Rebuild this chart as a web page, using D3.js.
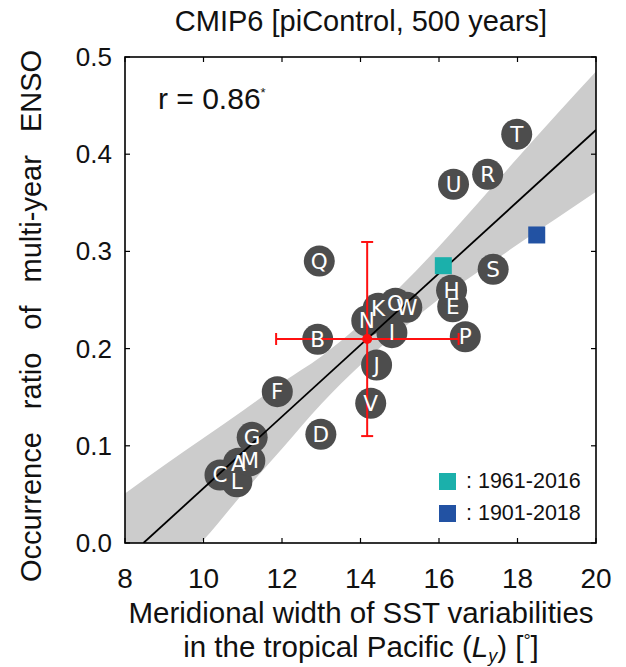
<!DOCTYPE html>
<html><head><meta charset="utf-8">
<script src="https://cdn.jsdelivr.net/npm/d3@7"></script>
<style>body{margin:0;background:#fff}svg{display:block}</style>
</head><body>
<svg id="c" width="626" height="667"></svg>
<script>
// ---- data ----
const models = ["A","B","C","D","E","F","G","H","I","J","K","L","M","N","O","P","Q","R","S","T","U","V","W"];
const modelLy = [10.89,12.91,10.42,12.99,16.35,11.88,11.24,16.32,14.80,14.41,14.45,10.85,11.18,14.16,14.89,16.67,12.95,17.24,17.38,17.98,16.37,14.26,15.18];
const modelRatio = [0.082,0.2096,0.070,0.1118,0.243,0.1557,0.1087,0.260,0.2164,0.1831,0.2414,0.063,0.0847,0.2287,0.2466,0.2122,0.290,0.3793,0.2816,0.4205,0.369,0.1437,0.2425];
const obsLabels = ["1961-2016","1901-2018"];
const obsLy = [16.11,18.49];
const obsRatio = [0.2853,0.3169];
const obsColors = ["#1bb0ab","#2252a3"];
const meanPoint = [14.17,0.2099];
const meanXRange = [11.85,16.50];
const meanYRange = [0.110,0.3097];
const fitLine = {x:[8.47,20], y:[0,0.4249]};
const bandX = [8,9,10,11,12,13,14,15,16,17,18,19,20];
const bandUpper = [0.051,0.080,0.108,0.136,0.165,0.192,0.225,0.263,0.305,0.350,0.396,0.441,0.485];
const bandLower = [-0.09,-0.035,0.003,0.051,0.097,0.143,0.183,0.218,0.251,0.279,0.307,0.334,0.3614];
const xTicks = [8,10,12,14,16,18,20];
const yTicks = [0,0.1,0.2,0.3,0.4,0.5];

// ---- layout ----
const L=125,R=596,T=57,B=543;
const svg=d3.select("#c");
const x=d3.scaleLinear().domain([8,20]).range([L,R]);
const y=d3.scaleLinear().domain([0,0.5]).range([B,T]);
const font="'Liberation Sans', Arial, Helvetica, sans-serif";

svg.append("defs").append("clipPath").attr("id","clip")
  .append("rect").attr("x",L).attr("y",T).attr("width",R-L).attr("height",B-T);
const g=svg.append("g").attr("clip-path","url(#clip)");

// band
const area=d3.area().x((d,i)=>x(bandX[i])).y0((d,i)=>y(bandLower[i])).y1((d,i)=>y(bandUpper[i])).curve(d3.curveMonotoneX);
g.append("path").datum(bandX).attr("d",area).attr("fill","#cccccc");

// circles
g.selectAll("circle.m").data(models).join("circle").attr("class","m")
  .attr("cx",(d,i)=>x(modelLy[i])).attr("cy",(d,i)=>y(modelRatio[i])).attr("r",15.5)
  .attr("fill","#4d4d4d");

// fit line
g.append("line").attr("x1",x(fitLine.x[0])).attr("y1",y(fitLine.y[0]))
  .attr("x2",x(fitLine.x[1])).attr("y2",y(fitLine.y[1]))
  .attr("stroke","#000").attr("stroke-width",1.8);

// crosshair
const red="#ff1010";
const ch=g.append("g").attr("stroke",red).attr("stroke-width",2);
ch.append("line").attr("x1",x(meanXRange[0])).attr("x2",x(meanXRange[1])).attr("y1",y(meanPoint[1])).attr("y2",y(meanPoint[1]));
ch.append("line").attr("y1",y(meanYRange[0])).attr("y2",y(meanYRange[1])).attr("x1",x(meanPoint[0])).attr("x2",x(meanPoint[0]));
meanXRange.forEach(v=>ch.append("line").attr("x1",x(v)).attr("x2",x(v)).attr("y1",y(meanPoint[1])-6).attr("y2",y(meanPoint[1])+6));
meanYRange.forEach(v=>ch.append("line").attr("y1",y(v)).attr("y2",y(v)).attr("x1",x(meanPoint[0])-6).attr("x2",x(meanPoint[0])+6));
g.append("circle").attr("cx",x(meanPoint[0])).attr("cy",y(meanPoint[1])).attr("r",5).attr("fill",red);

// letters
g.selectAll("text.m").data(models).join("text").attr("class","m")
  .attr("x",(d,i)=>x(modelLy[i])).attr("y",(d,i)=>y(modelRatio[i])+7.5)
  .attr("text-anchor","middle").attr("fill","#fff")
  .style("font-family","'DejaVu Sans', sans-serif").style("font-size","21.5px").text(d=>d);

// observations
g.selectAll("rect.o").data(obsLy).join("rect").attr("class","o")
  .attr("x",(d,i)=>x(d)-8.5).attr("y",(d,i)=>y(obsRatio[i])-8.5).attr("width",17).attr("height",17)
  .attr("fill",(d,i)=>obsColors[i]);

// frame & ticks
svg.append("rect").attr("x",L).attr("y",T).attr("width",R-L).attr("height",B-T)
  .attr("fill","none").attr("stroke","#000").attr("stroke-width",1.6);
const tk=svg.append("g").attr("stroke","#000").attr("stroke-width",1.2);
xTicks.forEach(v=>{
  tk.append("line").attr("x1",x(v)).attr("x2",x(v)).attr("y1",B).attr("y2",B-5);
  tk.append("line").attr("x1",x(v)).attr("x2",x(v)).attr("y1",T).attr("y2",T+5);
});
yTicks.forEach(v=>{
  tk.append("line").attr("y1",y(v)).attr("y2",y(v)).attr("x1",L).attr("x2",L+5);
  tk.append("line").attr("y1",y(v)).attr("y2",y(v)).attr("x1",R).attr("x2",R-5);
});
svg.selectAll("text.xt").data(xTicks).join("text").attr("class","xt")
  .attr("x",d=>x(d)).attr("y",588).attr("text-anchor","middle")
  .style("font-family",font).style("font-size","28px").attr("fill","#111").text(d=>d);
svg.selectAll("text.yt").data(yTicks).join("text").attr("class","yt")
  .attr("x",112).attr("y",d=>y(d)+9).attr("text-anchor","end")
  .style("font-family",font).style("font-size","26px").attr("fill","#111").text(d=>d3.format(".1f")(d));

// title
svg.append("text").attr("x",361).attr("y",31).attr("text-anchor","middle")
  .style("font-family",font).style("font-size","29px").attr("fill","#111").text("CMIP6 [piControl, 500 years]");

// r
const rt=svg.append("text").attr("x",158).attr("y",109)
  .style("font-family",font).style("font-size","30px").attr("fill","#111");
rt.append("tspan").text("r = 0.86");
rt.append("tspan").attr("dy",-12).style("font-size","13px").text("*");

// legend
obsLabels.forEach((lab,i)=>{
  svg.append("rect").attr("x",439).attr("y",473+i*32).attr("width",17).attr("height",17).attr("fill",obsColors[i]);
  svg.append("text").attr("x",466).attr("y",488+i*32)
    .style("font-family",font).style("font-size","21.5px").attr("fill","#111").text(": "+lab);
});

// axis labels
svg.append("text").attr("transform","translate(41,316) rotate(-90)").attr("text-anchor","middle")
  .style("font-family",font).style("font-size","29px").style("word-spacing","15px").attr("fill","#111")
  .text("Occurrence ratio of multi-year ENSO");
svg.append("text").attr("x",361).attr("y",623).attr("text-anchor","middle")
  .style("font-family",font).style("font-size","29.5px").attr("fill","#111")
  .text("Meridional width of SST variabilities");
const xl2=svg.append("text").attr("x",361).attr("y",657).attr("text-anchor","middle")
  .style("font-family",font).style("font-size","29.5px").attr("fill","#111");
xl2.append("tspan").text("in the tropical Pacific (");
xl2.append("tspan").style("font-style","italic").text("L");
xl2.append("tspan").style("font-style","italic").style("font-size","18px").attr("dy",5).text("y");
xl2.append("tspan").attr("dy",-5).text(") [");
xl2.append("tspan").attr("dy",-10).style("font-size","18px").text("°");
xl2.append("tspan").attr("dy",10).text("]");
</script>
</body></html>
